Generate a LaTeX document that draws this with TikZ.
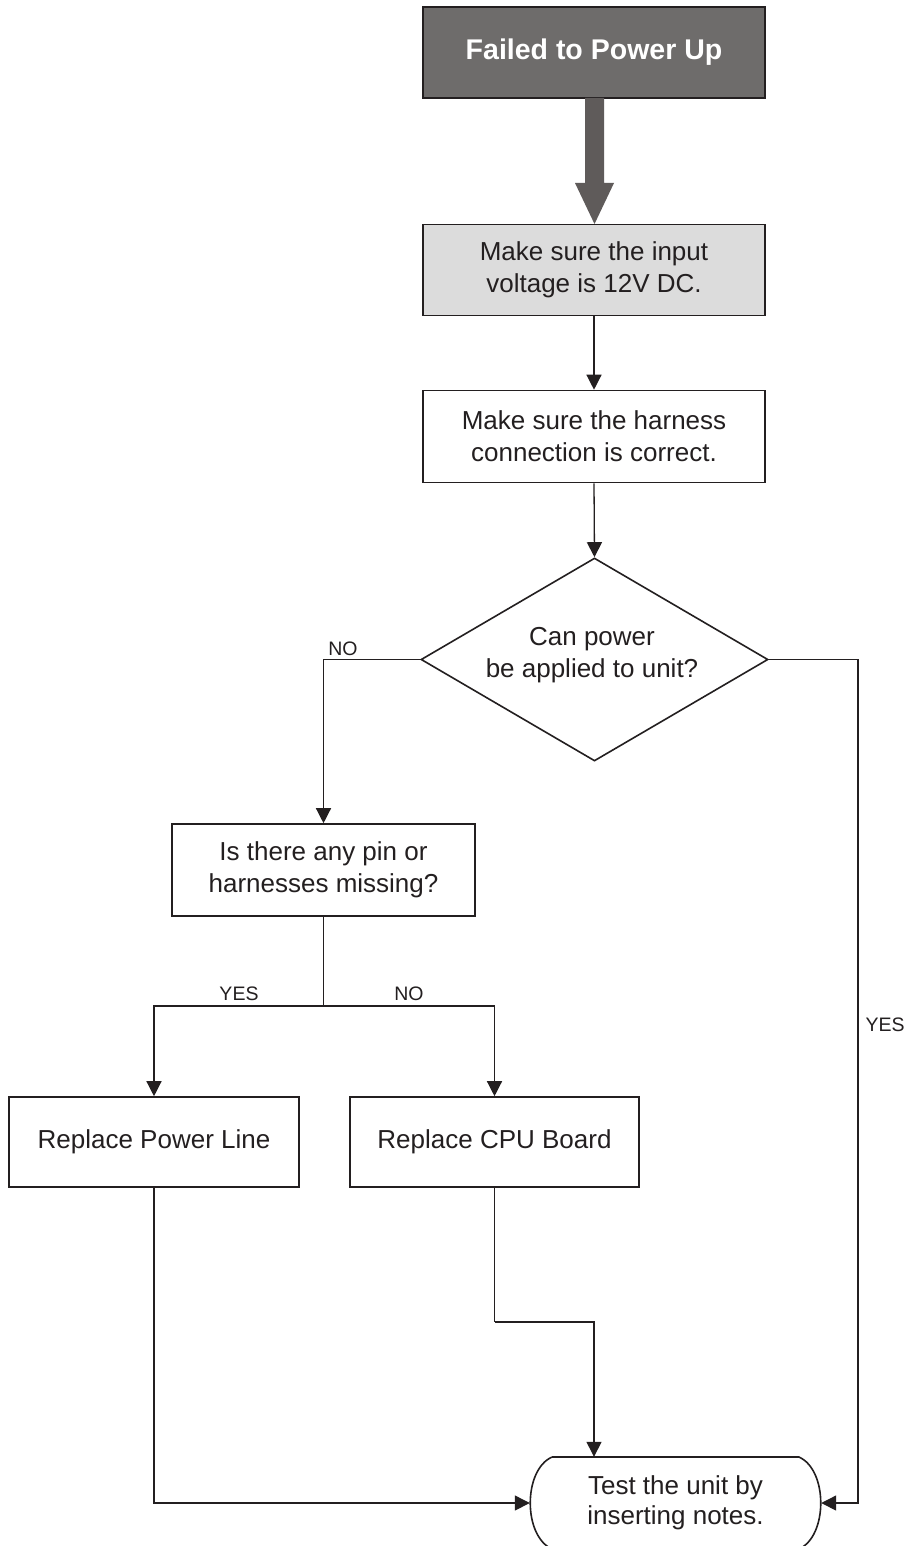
\documentclass[tikz,border=0pt]{standalone}
\usepackage{fontspec}
\setmainfont{Liberation Sans}
\usetikzlibrary{arrows.meta,shapes.geometric}
\definecolor{darkbox}{HTML}{6E6C6B}
\definecolor{bigarrow}{HTML}{5F5B5A}
\definecolor{lightbox}{HTML}{DCDCDC}
\definecolor{ink}{HTML}{231F20}
\begin{document}
\begin{tikzpicture}[x=1pt,y=-1pt,
  box/.style={draw=ink,line width=1.6pt,rectangle,align=center,inner sep=0pt,
    font=\fontsize{26}{32}\selectfont,text=ink},
  conn/.style={draw=ink,line width=1.3pt,-{Triangle[length=15pt,width=15pt]}},
  plain/.style={draw=ink,line width=1.3pt},
  lbl/.style={font=\fontsize{19.5}{22}\selectfont,text=ink,inner sep=0pt}]
\useasboundingbox (0,0) rectangle (919,1546);
\fill[white] (0,0) rectangle (919,1546);

\node[box,fill=darkbox,text=white,font=\fontsize{28.5}{32}\selectfont\bfseries,
  minimum width=342pt,minimum height=91pt] (start) at (594,52.5) {Failed to Power Up};
\node[box,fill=lightbox,minimum width=342pt,minimum height=91pt] (volt) at (594,270)
  {Make sure the input\\voltage is 12V DC.};
\node[box,minimum width=342pt,minimum height=92pt] (harn) at (594,436.5)
  {Make sure the harness\\connection is correct.};
\node[box,diamond,minimum width=347pt,minimum height=203pt,aspect=1.71] (dec) at (594.5,659.5) {};
\node[font=\fontsize{26}{32}\selectfont,text=ink,align=center] (dectext) at (592,655)
  {Can power\\be applied to unit?};
\node[box,minimum width=303pt,minimum height=92pt] (pin) at (323.5,870)
  {Is there any pin or\\harnesses missing?};
\node[box,minimum width=290pt,minimum height=90pt] (pline) at (154,1142) {Replace Power Line};
\node[box,minimum width=289pt,minimum height=90pt] (cpu) at (494.5,1142) {Replace CPU Board};
\node[font=\fontsize{26}{30}\selectfont,text=ink,align=center,
  minimum width=291pt,minimum height=92pt] (test) at (675.5,1503)
  {Test the unit by\\inserting notes.};
\draw[draw=ink,line width=1.6pt] (552,1457) -- (799,1457)
  .. controls (828,1470) and (828,1536) .. (799,1549)
  -- (552,1549) .. controls (523,1536) and (523,1470) .. (552,1457);

% big arrow
\fill[bigarrow] (585,98) -- (604,98) -- (604,183) -- (614,183) -- (594.5,224)
  -- (575,183) -- (585,183) -- cycle;

\draw[conn] (volt.south) -- (harn.north);
\draw[conn] (harn.south) -- (dec.north);
\draw[conn] (dec.west) -| (pin.north);
\node[lbl] (nolbl) at (343,649) {NO};
\coordinate (split) at (323.5,1006);
\draw[plain] (pin.south) -- (split);
\draw[conn] (split) -| (pline.north);
\draw[conn] (split) -| (cpu.north);
\node[lbl] (yes1) at (239,994) {YES};
\node[lbl] (no2) at (409,994) {NO};
\draw[conn] (pline.south) |- (test.west);
\coordinate (bend) at (494.5,1322);
\draw[plain] (cpu.south) -- (bend);
\draw[conn] (bend) -| ([xshift=-81.5pt]test.north);
\coordinate (rightbend) at (858,1503);
\draw[conn] (dec.east) -| (rightbend) -- (test.east);
\node[lbl] (yes2) at (885,1025) {YES};
\end{tikzpicture}
\end{document}
